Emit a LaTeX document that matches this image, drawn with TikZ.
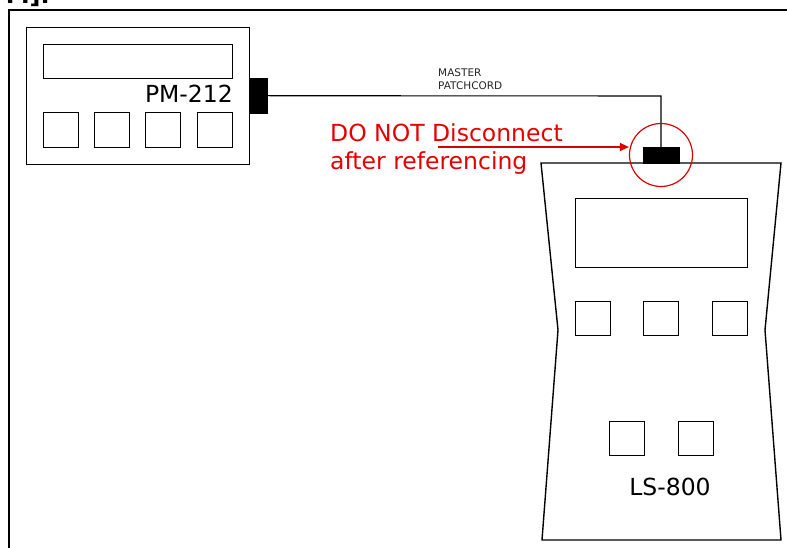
\documentclass[tikz,border=0pt]{standalone}
\usepackage{fontspec}
\setmainfont{DejaVu Sans}
\usetikzlibrary{arrows.meta}
\begin{document}
\begin{tikzpicture}[x=1pt,y=-1pt,
  part/.style={draw=black,line width=1.4pt},
  plug/.style={fill=black,draw=black},
  redtxt/.style={text=red!90!black,font=\fontsize{23.5}{28}\selectfont,inner sep=0pt},
  lbl/.style={font=\fontsize{23.5}{28}\selectfont,inner sep=0pt}]
\useasboundingbox (0,0) rectangle (787,548);
% cut-off heading fragment
\node[anchor=base east,inner sep=0pt,font=\bfseries\fontsize{24}{28}\selectfont] (head) at (50,4) {M].};
% frame
\draw[line width=2pt] (9,560) -- (9,10) -- (800,10);
% PM-212
\node[part,minimum width=223pt,minimum height=137pt,anchor=north west] (pm) at (26,27) {};
\node[part,minimum width=189pt,minimum height=34pt,anchor=north west] (pmdisp) at (43,44) {};
\foreach \x [count=\i] in {43,94,145,197}
  \node[part,minimum width=35pt,minimum height=35pt,anchor=north west] (pmb\i) at (\x,112) {};
\node[lbl,anchor=base east] (pmlbl) at (233,103) {PM-212};
\node[plug,minimum width=18pt,minimum height=35pt,anchor=north west,inner sep=0pt] (pmplug) at (249,78) {};
% LS-800 body
\draw[line width=1.4pt] (541,163) coordinate (lstl) -- (781,163) -- (765,330) -- (781,540) -- (542,540) -- (558,330) -- cycle;
\node[part,minimum width=172pt,minimum height=69pt,anchor=north west] (lsdisp) at (575,198) {};
\foreach \x [count=\i] in {575,643,712}
  \node[part,minimum width=35pt,minimum height=34pt,anchor=north west] (lsa\i) at (\x,301) {};
\foreach \x [count=\i] in {609,678}
  \node[part,minimum width=35pt,minimum height=34pt,anchor=north west] (lsb\i) at (\x,421) {};
\node[lbl,anchor=base] (lslbl) at (670,495) {LS-800};
\node[plug,minimum width=36pt,minimum height=16pt,anchor=north west,inner sep=0pt] (lsplug) at (643,147) {};
% cable
\coordinate (bend) at (661,96);
\draw[line width=1.1pt] (pmplug.east) -- (bend) -- (lsplug.north -| bend);
\node[anchor=north west,inner sep=0pt,align=left,font=\fontsize{10.5}{13}\selectfont,text=black!85] (cablelbl) at (438,69) {MASTER\\PATCHCORD};
% red annotation
\node[draw=red!85!black,line width=1.2pt,circle,minimum size=63pt,inner sep=0pt] (ring) at (661,155) {};
\node[redtxt,anchor=base west] (warn1) at (330,142) {DO NOT Disconnect};
\node[redtxt,anchor=base west] (warn2) at (330,170) {after referencing};
\coordinate (arrstart) at (438,147);
\draw[red!85!black,line width=1.3pt,-{Triangle[length=9pt,width=8pt]}] (arrstart) -- (ring.west |- arrstart);
\end{tikzpicture}
\end{document}
